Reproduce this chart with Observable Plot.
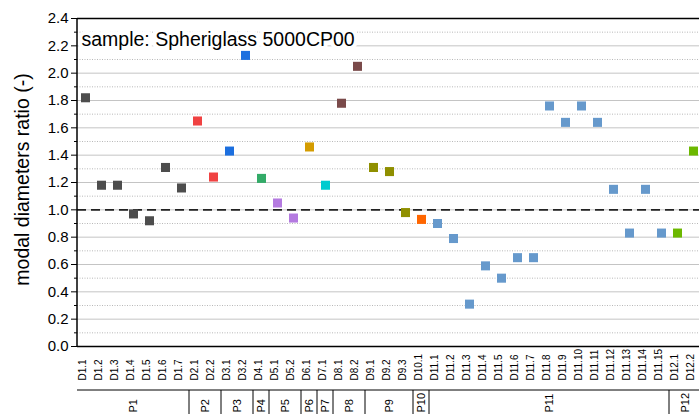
<!DOCTYPE html>
<html><head><meta charset="utf-8">
<script src="https://cdn.jsdelivr.net/npm/d3@7"></script>
<script src="https://cdn.jsdelivr.net/npm/@observablehq/plot@0.6"></script>
<style>body{margin:0;background:#fff;} #chart svg{font-family:"Liberation Sans",Arial,sans-serif;}</style>
</head><body><div id="chart"></div>
<script>
const categories = ["D1.1","D1.2","D1.3","D1.4","D1.5","D1.6","D1.7","D2.1","D2.2","D3.1","D3.2","D4.1","D5.1","D5.2","D6.1","D7.1","D8.1","D8.2","D9.1","D9.2","D9.3","D10.1","D11.1","D11.2","D11.3","D11.4","D11.5","D11.6","D11.7","D11.8","D11.9","D11.10","D11.11","D11.12","D11.13","D11.14","D11.15","D12.1","D12.2"];
const values = [1.82,1.18,1.18,0.97,0.92,1.31,1.16, 1.65,1.24, 1.43,2.13, 1.23, 1.05,0.94, 1.46, 1.18, 1.78,2.05, 1.31,1.28,0.98, 0.93, 0.90,0.79,0.31,0.59,0.50,0.65,0.65,1.76,1.64,1.76,1.64,1.15,0.83,1.15,0.83, 0.83,1.43];
const groups = ["P1","P2","P3","P4","P5","P6","P7","P8","P9","P10","P11","P12"];
const groupColors = ["#4d4d4d","#f04242","#1c6fdf","#33ab68","#b47ae0","#d49c00","#00cbcf","#7a4a4a","#8f8f00","#ff6600","#6699cc","#6cb800"];
const majorTicks = [0.0,0.2,0.4,0.6,0.8,1.0,1.2,1.4,1.6,1.8,2.0,2.2,2.4];
const minorTicks = [0.1,0.3,0.5,0.7,0.9,1.1,1.3,1.5,1.7,1.9,2.1,2.3];
const referenceLine = [1.0];
const yDomain = [0, 2.4];
const yLabel = "modal diameters ratio (-)";
const sampleTitle = "sample: Spheriglass 5000CP00";

const groupOf = c => "P" + c.slice(1).split(".")[0];
const data = categories.map((c, i) => ({cat: c, value: values[i], group: groupOf(c)}));

function groupRow(...args) {
  const scales = (args[1] && args[1].x) ? args[1] : args[0];
  const dims = (args[1] && args[1].x) ? args[3] : args[1];
  const x = scales.x;
  const step = x(categories[1]) - x(categories[0]);
  const yAxis = dims.height - dims.marginBottom;
  const yRow = yAxis + 44;
  const g = d3.create("svg:g").attr("fill", "black").attr("stroke", "none");
  const xLeft = x(categories[0]) - step / 2;
  const xRight = x(categories[categories.length - 1]) + step / 2;
  g.append("line").attr("x1", xLeft).attr("x2", xLeft).attr("y1", dims.marginTop).attr("y2", yAxis)
    .attr("stroke", "black").attr("stroke-width", 1.5);
  g.append("line").attr("x1", xLeft).attr("x2", xRight).attr("y1", yRow).attr("y2", yRow)
    .attr("stroke", "black").attr("stroke-width", 1);
  groups.forEach((p, i) => {
    const members = categories.filter(c => groupOf(c) === p);
    const l = x(members[0]) - step / 2;
    const r = x(members[members.length - 1]) + step / 2;
    if (i > 0) g.append("line").attr("x1", l).attr("x2", l).attr("y1", yRow).attr("y2", dims.height)
      .attr("stroke", "black").attr("stroke-width", 1);
    if (i === groups.length - 1) g.append("line").attr("x1", r).attr("x2", r).attr("y1", yRow).attr("y2", dims.height)
      .attr("stroke", "black").attr("stroke-width", 1);
    const cx = (l + r) / 2, cy = yRow + 22.5;
    g.append("text").attr("transform", `translate(${cx},${cy}) rotate(-90)`)
      .attr("text-anchor", "start").attr("dy", "0.35em").attr("font-size", 11).text(p);
  });
  return g.node();
}

const chart = Plot.plot({
  width: 699,
  height: 414,
  marginLeft: 77,
  marginRight: 0,
  marginTop: 18,
  marginBottom: 68,
  style: {fontFamily: "Liberation Sans, Arial, sans-serif", color: "black", background: "white"},
  x: {type: "point", domain: categories, range: [77, 701], padding: 0.5, axis: null},
  y: {domain: yDomain, axis: null},
  color: {domain: groups, range: groupColors},
  marks: [
    Plot.gridY(minorTicks, {stroke: "#b8b8b8", strokeOpacity: 1, strokeDasharray: "1,1.5"}),
    Plot.gridY(majorTicks, {stroke: "#c4c4c4", strokeOpacity: 1}),
    Plot.ruleY(referenceLine, {stroke: "#222", strokeWidth: 1.7, strokeDasharray: "9,5"}),
    Plot.ruleY([yDomain[0]], {stroke: "black", strokeWidth: 1.5}),
    Plot.ruleY([yDomain[1]], {stroke: "black", strokeWidth: 1.5}),
    Plot.axisY(majorTicks, {tickSize: 6, tickPadding: 3, tickFormat: d3.format(".1f"), fontSize: 15, label: null, stroke: "black"}),
    Plot.axisY(minorTicks, {tickSize: 3, tickFormat: () => "", label: null, stroke: "black"}),
    Plot.dot(data, {x: "cat", y: "value", fill: "group", symbol: "square", r: 5.1, stroke: null}),
    Plot.text(categories, {x: d => d, frameAnchor: "bottom", dy: 34, rotate: -90, textAnchor: "start", fontSize: 10}),
    Plot.text([yLabel], {text: d => d, frameAnchor: "left", dx: -55, dy: -3, rotate: -90, textAnchor: "middle", fontSize: 19.5}),
    Plot.text([sampleTitle], {text: d => d, frameAnchor: "top-left", dx: 4, dy: 14, textAnchor: "start", fontSize: 19.5, fill: "black", stroke: "white", strokeWidth: 8}),
    groupRow
  ]
});
document.getElementById("chart").appendChild(chart);
</script>
</body></html>
